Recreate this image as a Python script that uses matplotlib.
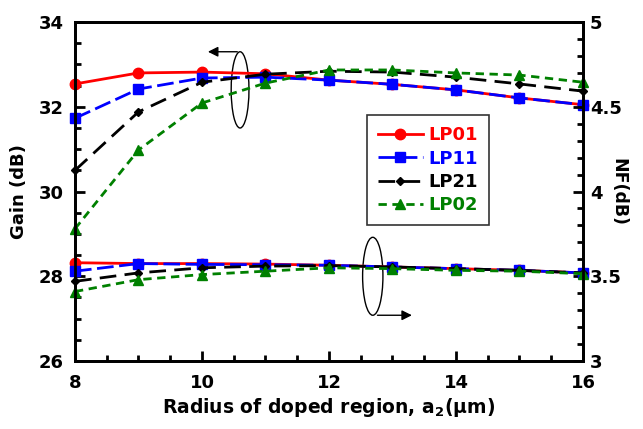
import matplotlib
matplotlib.use("Agg")
from matplotlib import pyplot as plt
from matplotlib.patches import Ellipse
from matplotlib.ticker import MultipleLocator

plt.rcParams['font.family'] = ['DejaVu Sans']
plt.rcParams['font.weight'] = 'bold'
plt.rcParams['mathtext.default'] = 'bf'

radius = [8, 9, 10, 11, 12, 13, 14, 15, 16]

# gain (dB), left axis
gain_lp01 = [32.54, 32.80, 32.82, 32.78, 32.63, 32.53, 32.40, 32.21, 32.05]
gain_lp11 = [31.73, 32.42, 32.68, 32.70, 32.63, 32.53, 32.40, 32.21, 32.05]
gain_lp21 = [30.50, 31.88, 32.58, 32.77, 32.84, 32.82, 32.70, 32.54, 32.37]
gain_lp02 = [29.12, 30.98, 32.09, 32.56, 32.87, 32.87, 32.80, 32.75, 32.58]

# noise figure (dB), right axis
nf_lp01 = [3.58, 3.575, 3.575, 3.572, 3.565, 3.555, 3.545, 3.535, 3.52]
nf_lp11 = [3.53, 3.575, 3.57, 3.568, 3.565, 3.555, 3.545, 3.535, 3.52]
nf_lp21 = [3.47, 3.52, 3.55, 3.56, 3.563, 3.555, 3.545, 3.535, 3.52]
nf_lp02 = [3.41, 3.48, 3.51, 3.53, 3.55, 3.545, 3.535, 3.53, 3.515]

styles = [
    ("LP01", "red", "-", "o", 7.5),
    ("LP11", "blue", (0, (6, 2)), "s", 7.5),
    ("LP21", "black", (0, (6, 3)), "D", 4.5),
    ("LP02", "green", (0, (3, 2)), "^", 6.5),
]
gains = [gain_lp01, gain_lp11, gain_lp21, gain_lp02]
nfs = [nf_lp01, nf_lp11, nf_lp21, nf_lp02]

fig = plt.figure(figsize=(6.43, 4.29), dpi=100)
ax1 = fig.add_axes([0.1166, 0.1585, 0.79, 0.79])
ax2 = ax1.twinx()

lines = []
for (name, c, ls, m, ms), g, nf in zip(styles, gains, nfs):
    l, = ax1.plot(radius, g, color=c, linestyle=ls, marker=m, markersize=ms,
                  linewidth=2, label=name, clip_on=False)
    ax2.plot(radius, nf, color=c, linestyle=ls, marker=m, markersize=ms,
             linewidth=2, clip_on=False)
    lines.append(l)

ax1.set_xlim(8, 16)
ax1.set_ylim(26, 34)
ax2.set_ylim(3, 5)

ax1.xaxis.set_major_locator(MultipleLocator(2))
ax1.xaxis.set_minor_locator(MultipleLocator(0.5))
ax1.yaxis.set_major_locator(MultipleLocator(2))
ax1.yaxis.set_minor_locator(MultipleLocator(0.5))
ax2.yaxis.set_minor_locator(MultipleLocator(0.1))
ax2.set_yticks([3, 3.5, 4, 4.5, 5])
ax2.set_yticklabels(["3", "3.5", "4", "4.5", "5"])

for ax in (ax1, ax2):
    ax.tick_params(which='both', direction='in', width=2, labelsize=13)
    ax.tick_params(which='major', length=7)
    ax.tick_params(which='minor', length=4)
    for s in ax.spines.values():
        s.set_linewidth(2)
ax1.tick_params(axis='x', pad=9)
ax1.tick_params(axis='y', right=False, pad=8)
ax2.tick_params(axis='y', left=False, pad=5)

ax1.set_xlabel("Radius of doped region, a$_2$(\u00b5m)", fontsize=13.5,
               fontweight='bold', labelpad=3)
ax1.set_ylabel("Gain (dB)", fontsize=13, fontweight='bold', labelpad=8)
ax2.set_ylabel("NF(dB)", fontsize=12.5, fontweight='bold', rotation=-90,
               labelpad=4)

# ellipses with arrows marking which axis each group belongs to
ax1.add_patch(Ellipse((10.6, 32.4), 0.28, 1.8, fill=False, color='black',
                      linewidth=1))
ax1.annotate("", xy=(10.05, 33.3), xytext=(10.6, 33.3),
             arrowprops=dict(arrowstyle='-|>', color='black', lw=1,
                             mutation_scale=15))
ax1.add_patch(Ellipse((12.69, 28.0), 0.32, 1.84, fill=False, color='black',
                      linewidth=1))
ax1.annotate("", xy=(13.35, 27.08), xytext=(12.72, 27.08),
             arrowprops=dict(arrowstyle='-|>', color='black', lw=1,
                             mutation_scale=15))

leg = ax1.legend(handles=lines, loc='upper left',
                 bbox_to_anchor=(0.575, 0.725), frameon=True, fancybox=False,
                 edgecolor='black', fontsize=13, handlelength=2.5,
                 borderpad=0.6, labelspacing=0.3, handletextpad=0.3,
                 borderaxespad=0)
leg.get_frame().set_linewidth(1.2)
for t, (name, c, ls, m, ms) in zip(leg.get_texts(), styles):
    t.set_color(c)
    t.set_fontweight('bold')

fig.savefig("out.png", dpi=100)
